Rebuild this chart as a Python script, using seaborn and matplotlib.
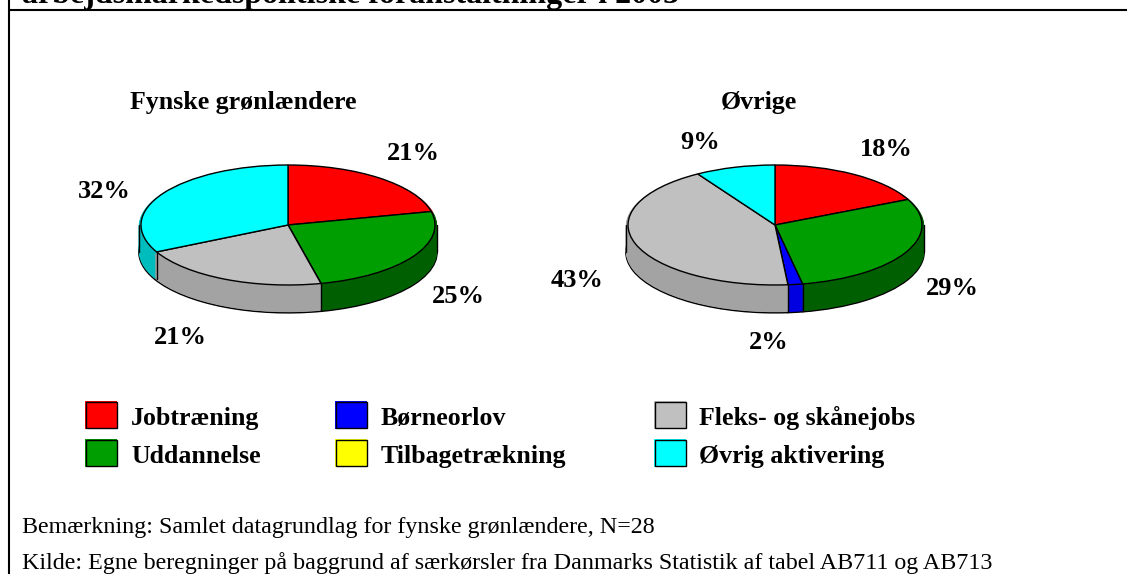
import matplotlib
matplotlib.use('Agg')
import matplotlib.pyplot as plt
import seaborn as sns
from matplotlib.patches import Rectangle
import numpy as np

# Data (shares, labels are the rounded values)
categories = ['Jobtræning', 'Uddannelse', 'Børneorlov', 'Tilbagetrækning', 'Fleks- og skånejobs', 'Øvrig aktivering']
fynske = [21.4, 25, 0, 0, 21.2, 32.4]
oevrige = [18, 29, 1.6, 0, 42.6, 8.8]
pie_titles = ['Fynske grønlændere', 'Øvrige']
title_text = 'arbejdsmarkedspolitiske foranstaltninger i 2003'
note_text = 'Bemærkning: Samlet datagrundlag for fynske grønlændere, N=28'
source_text = 'Kilde: Egne beregninger på baggrund af særkørsler fra Danmarks Statistik af tabel AB711 og AB713'

# colours per category, and the darker ones for the pie side
colors = ['#ff0000', '#009e00', '#0000ff', '#ffff00', '#c0c0c0', '#00ffff']
side_colors = ['#b00000', '#005f00', '#0000e0', '#a0a000', '#a3a3a3', '#00bcbc']

W, H = 1127, 574
RX, RY, DEPTH = 147, 60, 27

sns.set_theme(style='white')
plt.rcParams['font.family'] = ['Liberation Serif', 'DejaVu Serif']

fig = plt.figure(figsize=(W / 100, H / 100), dpi=100, facecolor='white')

# overlay in pixel coordinates for frame, text and legend
bg = fig.add_axes([0, 0, 1, 1])
bg.set_xlim(0, W)
bg.set_ylim(H, 0)
bg.axis('off')


def draw_pie(values, cx, cy):
    span = 1.4
    ax = fig.add_axes([(cx - span * RX) / W, 1 - (cy + span * RY + DEPTH) / H,
                       2 * span * RX / W, (2 * span * RY + DEPTH) / H])
    d = DEPTH / RY
    # side: stacked copies of the pie, lowest first
    for off in np.linspace(d, 0.02, 30):
        w, _ = ax.pie(values, colors=side_colors, startangle=90, counterclock=False,
                      radius=1.015, center=(0, -off),
                      wedgeprops=dict(linewidth=0))
        if off == d:
            for p in w:
                p.set_edgecolor('black')
                p.set_linewidth(1)
    # separators on the front of the side
    fr = np.cumsum(values) / sum(values)
    for f, v in zip(fr, values):
        if v == 0:
            continue
        a = np.pi / 2 - 2 * np.pi * f
        if np.sin(a) < 0:
            ax.plot([np.cos(a)] * 2, [np.sin(a), np.sin(a) - d], color='black', lw=1, zorder=1.5)
    for sx in (-1.015, 1.015):
        ax.plot([sx, sx], [0, -d], color='black', lw=1, zorder=1.2)
    ax.pie(values, colors=colors, startangle=90, counterclock=False, radius=1, center=(0, 0),
           wedgeprops=dict(linewidth=1, edgecolor='black', zorder=3))
    ax.set_aspect('auto')
    ax.set_xlim(-span, span)
    ax.set_ylim(-span - d, span)
    ax.axis('off')
    ax.patch.set_alpha(0)


draw_pie(fynske, 288, 225)
draw_pie(oevrige, 775, 225)

# frame, the reference has no line on the right
for x0, y0, x1, y1 in [(8.5, 0, 8.5, H), (8, 10, W, 10)]:
    bg.plot([x0, x1], [y0, y1], color='black', lw=1.5, solid_capstyle='butt')

bold = dict(fontweight='bold', color='black', va='baseline')
bg.text(22, 3, title_text, fontsize=23, **bold)
bg.text(130, 109, pie_titles[0], fontsize=18.6, **bold)
bg.text(721, 109, pie_titles[1], fontsize=18.6, **bold)

pct_pos = [
    (fynske[0], 387, 160), (fynske[1], 432, 303), (fynske[4], 154, 344), (fynske[5], 78, 198),
    (oevrige[0], 860, 156), (oevrige[1], 926, 295), (oevrige[2], 749, 349), (oevrige[4], 551, 287), (oevrige[5], 680, 149),
]
for val, x, y in pct_pos:
    bg.text(x, y, f'{val:.0f}%', fontsize=19, **bold)

# legend
cols = [(85, 131), (335, 381), (654, 699)]
rows = [(401, 425), (439, 463)]
for i, cat in enumerate(categories):
    (sx, tx), (ry, ty) = cols[i // 2], rows[i % 2]
    bg.add_patch(Rectangle((sx, ry), 32, 28, facecolor=colors[i], edgecolor='none'))
    bg.add_patch(Rectangle((sx + 0.5, ry + 0.5), 31, 26, facecolor='none', edgecolor='black', lw=1))
    bg.text(tx, ty, cat, fontsize=18.6, **bold)

bg.text(22, 533, note_text, fontsize=17.3, color='black')
bg.text(22, 569, source_text, fontsize=17.3, color='black')

fig.savefig('out.png', dpi=100)
